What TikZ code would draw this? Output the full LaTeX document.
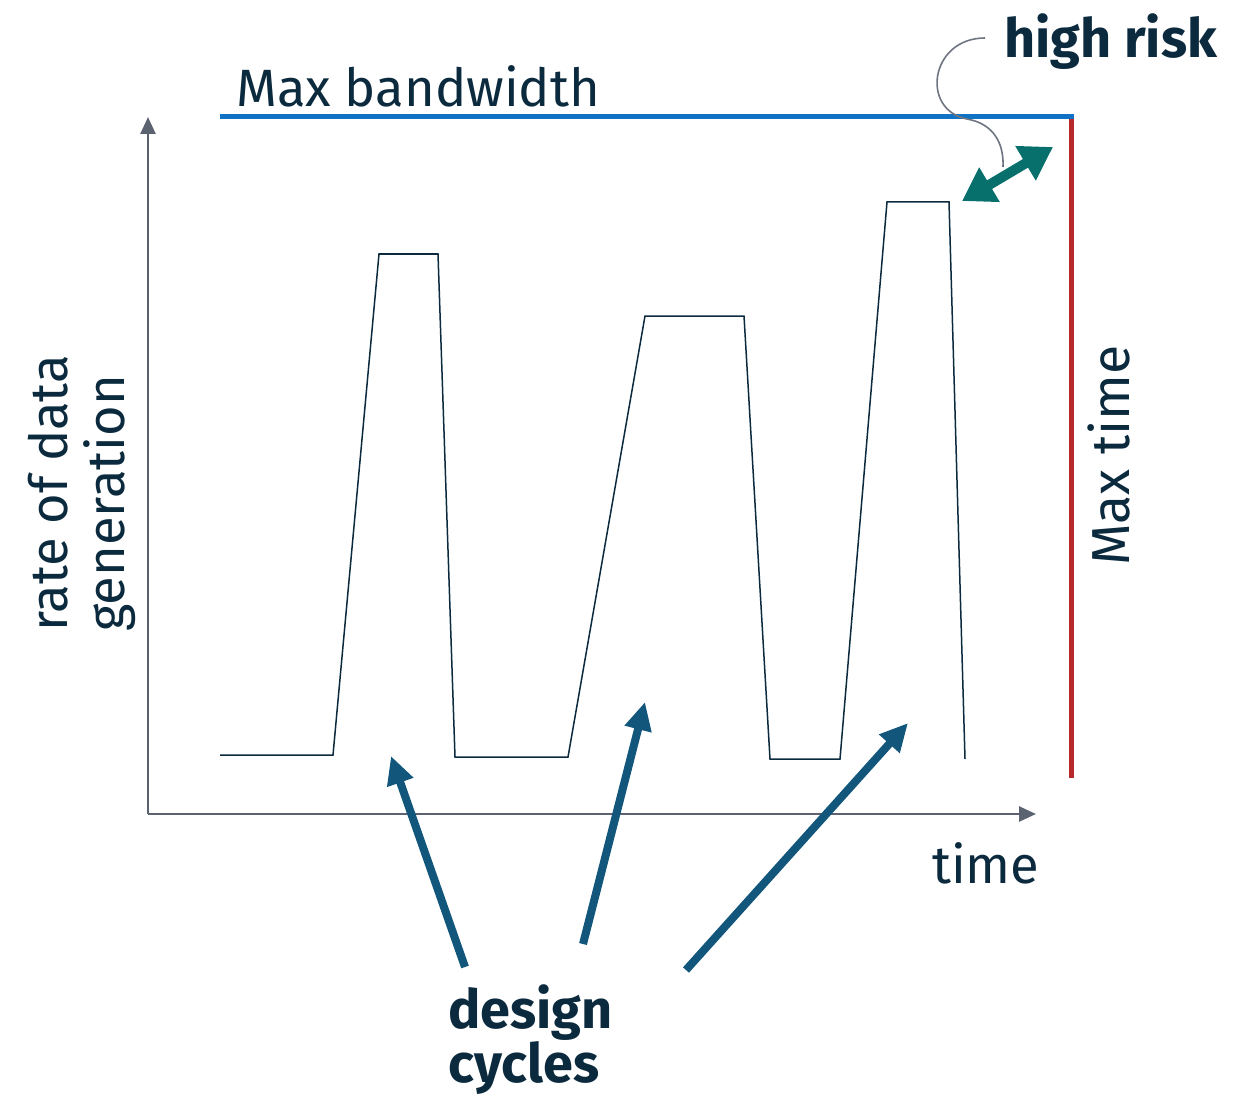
\documentclass[tikz,border=0pt]{standalone}
\usepackage{fontspec}
\setmainfont{Fira Sans}
\usetikzlibrary{arrows.meta}
\definecolor{ink}{HTML}{0B2A3E}
\definecolor{axisgray}{HTML}{5C6370}
\definecolor{bwblue}{HTML}{0F72C4}
\definecolor{limitred}{HTML}{B8292B}
\definecolor{cycleblue}{HTML}{12567B}
\definecolor{riskteal}{HTML}{07706C}
\definecolor{leadgray}{HTML}{6E7580}
\begin{document}
\begin{tikzpicture}[x=1pt,y=-1pt,
  axis/.style={draw=axisgray,line width=2.6pt,-{Triangle[length=17pt,width=15pt]}},
  signal/.style={draw=ink,line width=1.5pt,line join=miter},
  limitline/.style={line width=5pt},
  cyclearrow/.style={draw=cycleblue,line width=8pt,-{Triangle[length=28pt,width=26pt]}},
  riskarrow/.style={draw=riskteal,line width=10pt,{Triangle[length=32pt,width=38pt]}-{Triangle[length=32pt,width=38pt]}},
  lead/.style={draw=leadgray,line width=1.6pt},
  lbl/.style={text=ink,inner sep=0pt,font=\fontsize{52.5}{60}\selectfont},
  boldlbl/.style={text=ink,inner sep=0pt,font=\fontsize{54}{62}\selectfont\bfseries}]
\useasboundingbox (0,0) rectangle (1233,1099);

% axes
\coordinate (origin) at (148,814);
\coordinate (ytip) at (148,117);
\coordinate (xtip) at (1036,814);
\draw[axis] (origin) -- (ytip);
\draw[axis] (origin) -- (xtip);

% limits
\coordinate (bwleft) at (220,117);
\coordinate (corner) at (1071,117);
\coordinate (tend) at (1071,778);
\draw[limitline,bwblue] (bwleft) -- (1073.5,117);
\draw[limitline,limitred] (1071,119.5) -- (tend);

% rate of data generation over time
\draw[signal] (220,755) -- (333,755) -- (379,254) -- (438,254) -- (455,757)
  -- (568,757) -- (645,316) -- (744,316) -- (770,759) -- (840,759)
  -- (887,202) -- (949,202) -- (965,759);

% labels
\node[lbl,anchor=base west] (bw) at (236,107) {Max bandwidth};
\node[lbl,anchor=base west] (time) at (932,883) {time};
\node[lbl,anchor=base west,rotate=90,font=\fontsize{53.5}{60}\selectfont] (maxtime) at (1129,566) {Max time};
\node[lbl,anchor=base west,rotate=90] (rate1) at (67,632) {rate of data};
\node[lbl,anchor=base west,rotate=90] (rate2) at (124,632) {generation};
\node[boldlbl,anchor=base west] (risk) at (1004,58) {high risk};
\node[boldlbl,anchor=base west] (design) at (448,1028) {design};
\node[boldlbl,anchor=base west] (cycles) at (448,1082) {cycles};

% design cycle pointers
\coordinate (c1) at (391,756);
\coordinate (c2) at (645,702);
\coordinate (c3) at (908,723);
\draw[cyclearrow] (465,967) -- (c1);
\draw[cyclearrow] (583,944) -- (c2);
\draw[cyclearrow] (686,970) -- (c3);

% margin to the bandwidth limit
\coordinate (r1) at (962,201);
\coordinate (r2) at (1053,147);
\draw[riskarrow] (r1) -- (r2);
\draw[lead] (985,38) .. controls (930,38) and (920,110) .. (967,119)
  .. controls (995,124) and (1004,145) .. (1003,167);
\end{tikzpicture}
\end{document}
